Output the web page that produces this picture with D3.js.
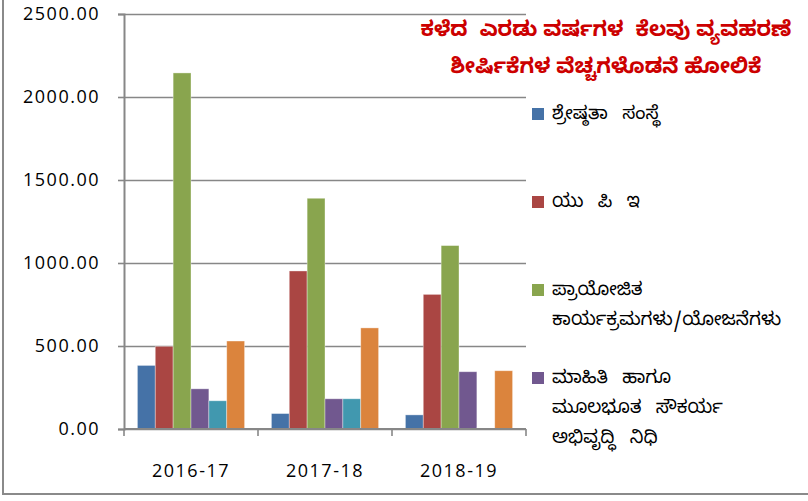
<!DOCTYPE html>
<html>
<head>
<meta charset="utf-8">
<script src="https://cdn.jsdelivr.net/npm/d3@7"></script>
<style>
  body { margin: 0; background: #fff; }
  svg { display: block; }
</style>
</head>
<body>
<div id="chart"></div>
<script>
// Chart data
var categories = ["2016-17", "2017-18", "2018-19"];
var excellence = [383, 93, 85];
var upe = [498, 952, 811];
var sponsored = [2145, 1390, 1105];
var infraFund = [242, 182, 345];
var series5 = [170, 182, 6];
var series6 = [530, 609, 351];
var seriesColors = ["#4572A7", "#AA4643", "#89A54E", "#71588F", "#4198AF", "#DB843D"];
var legendLabels = [
  ["ಶ್ರೇಷ್ಠತಾ ಸಂಸ್ಥೆ"],
  ["ಯು ಪಿ ಇ"],
  ["ಪ್ರಾಯೋಜಿತ", "ಕಾರ್ಯಕ್ರಮಗಳು/ಯೋಜನೆಗಳು"],
  ["ಮಾಹಿತಿ ಹಾಗೂ", "ಮೂಲಭೂತ ಸೌಕರ್ಯ", "ಅಭಿವೃದ್ಧಿ ನಿಧಿ"]
];
var titleLines = ["ಕಳೆದ  ಎರಡು ವರ್ಷಗಳ  ಕೆಲವು ವ್ಯವಹರಣೆ", "ಶೀರ್ಷಿಕೆಗಳ ವೆಚ್ಚಗಳೊಡನೆ ಹೋಲಿಕೆ"];
var yTicks = [0, 500, 1000, 1500, 2000, 2500];

var allSeries = [excellence, upe, sponsored, infraFund, series5, series6];

var W = 808, H = 501;
var plot = {left: 124, right: 526, top: 14, bottom: 429};

var svg = d3.select("#chart").append("svg")
  .attr("width", W)
  .attr("height", H);

// outer chart border (only left and bottom edges are in view)
svg.append("rect")
  .attr("x", 3).attr("y", -10)
  .attr("width", 840).attr("height", 504)
  .attr("fill", "none")
  .attr("stroke", "#8a8a8a")
  .attr("stroke-width", 2);

// Scales
var x0 = d3.scaleBand()
  .domain(categories)
  .range([plot.left, plot.right]);

var x1 = d3.scaleBand()
  .domain(d3.range(allSeries.length))
  .range([0, x0.bandwidth()])
  .paddingOuter(0.75);

var y = d3.scaleLinear()
  .domain([0, 2500])
  .range([plot.bottom, plot.top]);

// Gridlines
svg.append("g")
  .attr("transform", "translate(" + plot.left + ",0)")
  .call(d3.axisLeft(y).tickValues(yTicks).tickSize(-(plot.right - plot.left)).tickFormat(""))
  .call(g => g.select(".domain").remove())
  .selectAll("line")
  .attr("stroke", "#878787")
  .attr("stroke-width", 1.6);

// Bars
svg.append("g")
  .selectAll("g")
  .data(categories)
  .enter().append("g")
  .attr("transform", d => "translate(" + x0(d) + ",0)")
  .selectAll("rect")
  .data((c, ci) => allSeries.map((s, si) => ({si: si, v: s[ci]})))
  .enter().append("rect")
  .attr("x", d => x1(d.si))
  .attr("y", d => y(d.v))
  .attr("width", x1.bandwidth())
  .attr("height", d => y(0) - y(d.v))
  .attr("fill", d => seriesColors[d.si])
  .attr("stroke", "rgba(255,255,255,0.45)")
  .attr("stroke-width", 0.8);

// Y axis
var yAxis = svg.append("g")
  .attr("transform", "translate(" + plot.left + ",0)")
  .call(d3.axisLeft(y).tickValues(yTicks).tickSize(6).tickPadding(18).tickFormat(d3.format(".2f")));
yAxis.select(".domain").attr("stroke", "#878787").attr("stroke-width", 2);
yAxis.selectAll("line").attr("stroke", "#878787").attr("stroke-width", 1.6);
yAxis.selectAll("text")
  .attr("fill", "#000")
  .style("font-family", "'Open Sans', sans-serif")
  .style("font-size", "18px")
  .style("letter-spacing", "1.5px");

// X axis: ticks at category boundaries
var xAxis = svg.append("g")
  .attr("transform", "translate(0," + plot.bottom + ")");
xAxis.append("line")
  .attr("x1", plot.left).attr("x2", plot.right)
  .attr("stroke", "#878787").attr("stroke-width", 2);
xAxis.selectAll(".tk")
  .data(categories.concat(["end"]))
  .enter().append("line")
  .attr("x1", (d, i) => i < categories.length ? x0(d) : plot.right)
  .attr("x2", (d, i) => i < categories.length ? x0(d) : plot.right)
  .attr("y1", 0).attr("y2", 7)
  .attr("stroke", "#878787").attr("stroke-width", 1.6);
xAxis.selectAll(".lbl")
  .data(categories)
  .enter().append("text")
  .attr("x", d => x0(d) + x0.bandwidth() / 2)
  .attr("y", 48)
  .attr("text-anchor", "middle")
  .style("font-family", "'Open Sans', sans-serif")
  .style("font-size", "18px")
  .style("letter-spacing", "1.5px")
  .text(d => d);

// Title
svg.append("g")
  .selectAll("text")
  .data(titleLines)
  .enter().append("text")
  .attr("x", 606)
  .attr("y", (d, i) => 36 + i * 37)
  .attr("text-anchor", "middle")
  .attr("fill", "#cc0000")
  .style("font-family", "'Noto Sans Kannada', 'Noto Sans', sans-serif")
  .style("font-weight", "bold")
  .style("font-size", "21px")
  .style("white-space", "pre")
  .text(d => d);

// Legend
var legend = svg.append("g");
var item = legend.selectAll("g")
  .data(legendLabels)
  .enter().append("g")
  .attr("transform", (d, i) => "translate(532," + (113 + i * 88) + ")");
item.append("rect")
  .attr("x", 0).attr("y", -5)
  .attr("width", 12).attr("height", 12)
  .attr("fill", (d, i) => seriesColors[i]);
item.each(function(lines) {
  d3.select(this).selectAll("text")
    .data(lines)
    .enter().append("text")
    .attr("x", 20)
    .attr("y", (l, j) => 6 + j * 30)
    .style("font-family", "'Noto Sans Kannada', 'Noto Sans', sans-serif")
    .style("font-size", "18.5px")
    .style("word-spacing", "9px")
    .text(l => l);
});
</script>
</body>
</html>
